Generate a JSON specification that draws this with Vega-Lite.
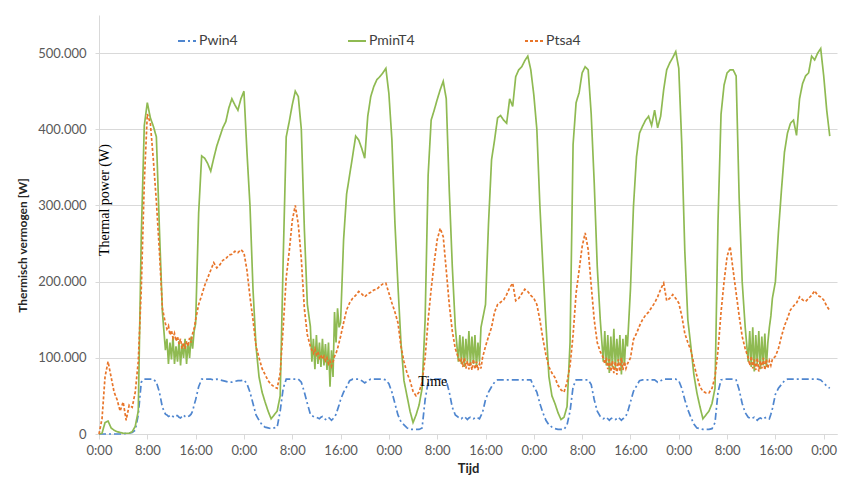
{
"$schema":"https://vega.github.io/schema/vega-lite/v6.json",
"autosize":{"type":"none"},
"width":738,"height":419,
"padding":{"left":99,"top":15,"right":6,"bottom":49},
"background":"white",
"config":{"view":{"stroke":null},"font":"Lato"},
"layer":[
{
"data":{"values":[
{"t":0,"Pwin4":0,"PminT4":0,"Ptsa4":0},
{"t":0.5,"Pwin4":0,"PminT4":1,"Ptsa4":20},
{"t":1,"Pwin4":0,"PminT4":15,"Ptsa4":75},
{"t":1.5,"Pwin4":0,"PminT4":17,"Ptsa4":95},
{"t":2,"Pwin4":0,"PminT4":8,"Ptsa4":75},
{"t":2.5,"Pwin4":0,"PminT4":5,"Ptsa4":55},
{"t":3,"Pwin4":0,"PminT4":3,"Ptsa4":45},
{"t":3.5,"Pwin4":0,"PminT4":2,"Ptsa4":30},
{"t":4,"Pwin4":0,"PminT4":1,"Ptsa4":42},
{"t":4.5,"Pwin4":1,"PminT4":1,"Ptsa4":18},
{"t":5,"Pwin4":1,"PminT4":1,"Ptsa4":38},
{"t":5.5,"Pwin4":2,"PminT4":3,"Ptsa4":35},
{"t":6,"Pwin4":5,"PminT4":10,"Ptsa4":55},
{"t":6.5,"Pwin4":25,"PminT4":30,"Ptsa4":95},
{"t":7,"Pwin4":68,"PminT4":260,"Ptsa4":190},
{"t":7.5,"Pwin4":72,"PminT4":405,"Ptsa4":330},
{"t":8,"Pwin4":72,"PminT4":435,"Ptsa4":420},
{"t":8.5,"Pwin4":72,"PminT4":415,"Ptsa4":408},
{"t":9,"Pwin4":72,"PminT4":404,"Ptsa4":360},
{"t":9.5,"Pwin4":68,"PminT4":390,"Ptsa4":305},
{"t":10,"Pwin4":55,"PminT4":270,"Ptsa4":240},
{"t":10.5,"Pwin4":35,"PminT4":160,"Ptsa4":165},
{"t":11,"Pwin4":26,"PminT4":110,"Ptsa4":145},
{"t":11.25,"Pwin4":25,"PminT4":125,"Ptsa4":138},
{"t":11.5,"Pwin4":23,"PminT4":92,"Ptsa4":142},
{"t":11.75,"Pwin4":24,"PminT4":120,"Ptsa4":130},
{"t":12,"Pwin4":25,"PminT4":98,"Ptsa4":136},
{"t":12.25,"Pwin4":23,"PminT4":128,"Ptsa4":126},
{"t":12.5,"Pwin4":22,"PminT4":92,"Ptsa4":132},
{"t":12.75,"Pwin4":24,"PminT4":115,"Ptsa4":122},
{"t":13,"Pwin4":24,"PminT4":95,"Ptsa4":128},
{"t":13.25,"Pwin4":22,"PminT4":122,"Ptsa4":118},
{"t":13.5,"Pwin4":21,"PminT4":90,"Ptsa4":125},
{"t":13.75,"Pwin4":23,"PminT4":118,"Ptsa4":112},
{"t":14,"Pwin4":25,"PminT4":100,"Ptsa4":120},
{"t":14.25,"Pwin4":23,"PminT4":125,"Ptsa4":112},
{"t":14.5,"Pwin4":22,"PminT4":92,"Ptsa4":122},
{"t":14.75,"Pwin4":23,"PminT4":120,"Ptsa4":115},
{"t":15,"Pwin4":24,"PminT4":100,"Ptsa4":126},
{"t":15.25,"Pwin4":26,"PminT4":128,"Ptsa4":120},
{"t":15.5,"Pwin4":30,"PminT4":112,"Ptsa4":132},
{"t":15.75,"Pwin4":38,"PminT4":135,"Ptsa4":138},
{"t":16,"Pwin4":45,"PminT4":145,"Ptsa4":150},
{"t":16.5,"Pwin4":62,"PminT4":290,"Ptsa4":170},
{"t":17,"Pwin4":72,"PminT4":365,"Ptsa4":182},
{"t":17.5,"Pwin4":72,"PminT4":362,"Ptsa4":195},
{"t":18,"Pwin4":72,"PminT4":355,"Ptsa4":205},
{"t":18.5,"Pwin4":72,"PminT4":345,"Ptsa4":215},
{"t":19,"Pwin4":71,"PminT4":362,"Ptsa4":225},
{"t":19.5,"Pwin4":72,"PminT4":378,"Ptsa4":218},
{"t":20,"Pwin4":71,"PminT4":390,"Ptsa4":222},
{"t":20.5,"Pwin4":70,"PminT4":402,"Ptsa4":228},
{"t":21,"Pwin4":69,"PminT4":410,"Ptsa4":230},
{"t":21.5,"Pwin4":68,"PminT4":428,"Ptsa4":235},
{"t":22,"Pwin4":68,"PminT4":440,"Ptsa4":236},
{"t":22.5,"Pwin4":69,"PminT4":432,"Ptsa4":240},
{"t":23,"Pwin4":70,"PminT4":425,"Ptsa4":238},
{"t":23.5,"Pwin4":70,"PminT4":440,"Ptsa4":242},
{"t":24,"Pwin4":71,"PminT4":450,"Ptsa4":238},
{"t":24.5,"Pwin4":66,"PminT4":370,"Ptsa4":215},
{"t":25,"Pwin4":55,"PminT4":300,"Ptsa4":180},
{"t":25.5,"Pwin4":40,"PminT4":190,"Ptsa4":150},
{"t":26,"Pwin4":25,"PminT4":115,"Ptsa4":115},
{"t":26.5,"Pwin4":18,"PminT4":75,"Ptsa4":100},
{"t":27,"Pwin4":12,"PminT4":55,"Ptsa4":86},
{"t":27.5,"Pwin4":9,"PminT4":42,"Ptsa4":78},
{"t":28,"Pwin4":8,"PminT4":30,"Ptsa4":70},
{"t":28.5,"Pwin4":7,"PminT4":20,"Ptsa4":65},
{"t":29,"Pwin4":8,"PminT4":25,"Ptsa4":62},
{"t":29.5,"Pwin4":9,"PminT4":30,"Ptsa4":60},
{"t":30,"Pwin4":30,"PminT4":50,"Ptsa4":80},
{"t":30.5,"Pwin4":60,"PminT4":230,"Ptsa4":140},
{"t":31,"Pwin4":72,"PminT4":390,"Ptsa4":205},
{"t":31.5,"Pwin4":72,"PminT4":410,"Ptsa4":240},
{"t":32,"Pwin4":72,"PminT4":432,"Ptsa4":280},
{"t":32.5,"Pwin4":72,"PminT4":450,"Ptsa4":300},
{"t":33,"Pwin4":72,"PminT4":443,"Ptsa4":275},
{"t":33.5,"Pwin4":68,"PminT4":400,"Ptsa4":230},
{"t":34,"Pwin4":55,"PminT4":270,"Ptsa4":165},
{"t":34.5,"Pwin4":40,"PminT4":170,"Ptsa4":130},
{"t":35,"Pwin4":26,"PminT4":141,"Ptsa4":115},
{"t":35.25,"Pwin4":24,"PminT4":95,"Ptsa4":110},
{"t":35.5,"Pwin4":23,"PminT4":125,"Ptsa4":106},
{"t":35.75,"Pwin4":22,"PminT4":85,"Ptsa4":112},
{"t":36,"Pwin4":22,"PminT4":130,"Ptsa4":104},
{"t":36.25,"Pwin4":21,"PminT4":92,"Ptsa4":108},
{"t":36.5,"Pwin4":20,"PminT4":120,"Ptsa4":100},
{"t":36.75,"Pwin4":22,"PminT4":88,"Ptsa4":104},
{"t":37,"Pwin4":23,"PminT4":125,"Ptsa4":98},
{"t":37.25,"Pwin4":21,"PminT4":90,"Ptsa4":102},
{"t":37.5,"Pwin4":19,"PminT4":118,"Ptsa4":96},
{"t":37.75,"Pwin4":20,"PminT4":84,"Ptsa4":100},
{"t":38,"Pwin4":22,"PminT4":120,"Ptsa4":92},
{"t":38.25,"Pwin4":20,"PminT4":62,"Ptsa4":96},
{"t":38.5,"Pwin4":18,"PminT4":110,"Ptsa4":89},
{"t":38.75,"Pwin4":20,"PminT4":75,"Ptsa4":95},
{"t":39,"Pwin4":22,"PminT4":160,"Ptsa4":102},
{"t":39.25,"Pwin4":26,"PminT4":120,"Ptsa4":106},
{"t":39.5,"Pwin4":32,"PminT4":165,"Ptsa4":112},
{"t":39.75,"Pwin4":38,"PminT4":140,"Ptsa4":120},
{"t":40,"Pwin4":45,"PminT4":146,"Ptsa4":128},
{"t":40.5,"Pwin4":55,"PminT4":255,"Ptsa4":146},
{"t":41,"Pwin4":62,"PminT4":315,"Ptsa4":163},
{"t":41.5,"Pwin4":70,"PminT4":340,"Ptsa4":172},
{"t":42,"Pwin4":72,"PminT4":365,"Ptsa4":178},
{"t":42.5,"Pwin4":72,"PminT4":391,"Ptsa4":182},
{"t":43,"Pwin4":72,"PminT4":386,"Ptsa4":187},
{"t":43.5,"Pwin4":70,"PminT4":375,"Ptsa4":184},
{"t":44,"Pwin4":67,"PminT4":362,"Ptsa4":180},
{"t":44.5,"Pwin4":70,"PminT4":417,"Ptsa4":184},
{"t":45,"Pwin4":72,"PminT4":443,"Ptsa4":186},
{"t":45.5,"Pwin4":72,"PminT4":456,"Ptsa4":189},
{"t":46,"Pwin4":72,"PminT4":465,"Ptsa4":190},
{"t":46.5,"Pwin4":72,"PminT4":469,"Ptsa4":194},
{"t":47,"Pwin4":72,"PminT4":474,"Ptsa4":197},
{"t":47.5,"Pwin4":71,"PminT4":480,"Ptsa4":198},
{"t":48,"Pwin4":66,"PminT4":447,"Ptsa4":185},
{"t":48.5,"Pwin4":55,"PminT4":386,"Ptsa4":172},
{"t":49,"Pwin4":40,"PminT4":277,"Ptsa4":160},
{"t":49.5,"Pwin4":25,"PminT4":195,"Ptsa4":146},
{"t":50,"Pwin4":16,"PminT4":120,"Ptsa4":115},
{"t":50.5,"Pwin4":12,"PminT4":70,"Ptsa4":95},
{"t":51,"Pwin4":8,"PminT4":50,"Ptsa4":80},
{"t":51.5,"Pwin4":6,"PminT4":30,"Ptsa4":70},
{"t":52,"Pwin4":6,"PminT4":15,"Ptsa4":56},
{"t":52.5,"Pwin4":6,"PminT4":25,"Ptsa4":50},
{"t":53,"Pwin4":6,"PminT4":38,"Ptsa4":55},
{"t":53.5,"Pwin4":8,"PminT4":60,"Ptsa4":68},
{"t":54,"Pwin4":45,"PminT4":150,"Ptsa4":100},
{"t":54.5,"Pwin4":68,"PminT4":340,"Ptsa4":150},
{"t":55,"Pwin4":72,"PminT4":412,"Ptsa4":190},
{"t":55.5,"Pwin4":72,"PminT4":425,"Ptsa4":225},
{"t":56,"Pwin4":72,"PminT4":439,"Ptsa4":255},
{"t":56.5,"Pwin4":72,"PminT4":452,"Ptsa4":270},
{"t":57,"Pwin4":72,"PminT4":463,"Ptsa4":259},
{"t":57.5,"Pwin4":70,"PminT4":440,"Ptsa4":215},
{"t":58,"Pwin4":55,"PminT4":320,"Ptsa4":170},
{"t":58.5,"Pwin4":35,"PminT4":220,"Ptsa4":135},
{"t":59,"Pwin4":25,"PminT4":140,"Ptsa4":112},
{"t":59.5,"Pwin4":22,"PminT4":95,"Ptsa4":100},
{"t":59.75,"Pwin4":21,"PminT4":130,"Ptsa4":94},
{"t":60,"Pwin4":20,"PminT4":92,"Ptsa4":98},
{"t":60.25,"Pwin4":22,"PminT4":128,"Ptsa4":88},
{"t":60.5,"Pwin4":23,"PminT4":88,"Ptsa4":100},
{"t":60.75,"Pwin4":21,"PminT4":125,"Ptsa4":86},
{"t":61,"Pwin4":19,"PminT4":95,"Ptsa4":96},
{"t":61.25,"Pwin4":21,"PminT4":135,"Ptsa4":85},
{"t":61.5,"Pwin4":22,"PminT4":90,"Ptsa4":95},
{"t":61.75,"Pwin4":21,"PminT4":128,"Ptsa4":84},
{"t":62,"Pwin4":20,"PminT4":92,"Ptsa4":98},
{"t":62.25,"Pwin4":21,"PminT4":130,"Ptsa4":85},
{"t":62.5,"Pwin4":22,"PminT4":88,"Ptsa4":95},
{"t":62.75,"Pwin4":21,"PminT4":120,"Ptsa4":84},
{"t":63,"Pwin4":20,"PminT4":95,"Ptsa4":92},
{"t":63.25,"Pwin4":24,"PminT4":140,"Ptsa4":86},
{"t":63.5,"Pwin4":28,"PminT4":150,"Ptsa4":100},
{"t":64,"Pwin4":45,"PminT4":170,"Ptsa4":115},
{"t":64.5,"Pwin4":55,"PminT4":277,"Ptsa4":128},
{"t":65,"Pwin4":62,"PminT4":360,"Ptsa4":140},
{"t":65.5,"Pwin4":68,"PminT4":386,"Ptsa4":160},
{"t":66,"Pwin4":71,"PminT4":415,"Ptsa4":170},
{"t":66.5,"Pwin4":71,"PminT4":418,"Ptsa4":173},
{"t":67,"Pwin4":71,"PminT4":412,"Ptsa4":176},
{"t":67.5,"Pwin4":71,"PminT4":408,"Ptsa4":183},
{"t":68,"Pwin4":71,"PminT4":440,"Ptsa4":192},
{"t":68.5,"Pwin4":71,"PminT4":430,"Ptsa4":198},
{"t":69,"Pwin4":71,"PminT4":469,"Ptsa4":175},
{"t":69.5,"Pwin4":71,"PminT4":478,"Ptsa4":178},
{"t":70,"Pwin4":71,"PminT4":482,"Ptsa4":184},
{"t":70.5,"Pwin4":71,"PminT4":490,"Ptsa4":190},
{"t":71,"Pwin4":71,"PminT4":496,"Ptsa4":187},
{"t":71.5,"Pwin4":71,"PminT4":478,"Ptsa4":182},
{"t":72,"Pwin4":62,"PminT4":445,"Ptsa4":178},
{"t":72.5,"Pwin4":55,"PminT4":400,"Ptsa4":170},
{"t":73,"Pwin4":40,"PminT4":300,"Ptsa4":150},
{"t":73.5,"Pwin4":28,"PminT4":220,"Ptsa4":125},
{"t":74,"Pwin4":18,"PminT4":145,"Ptsa4":104},
{"t":74.5,"Pwin4":12,"PminT4":75,"Ptsa4":88},
{"t":75,"Pwin4":9,"PminT4":50,"Ptsa4":80},
{"t":75.5,"Pwin4":7,"PminT4":40,"Ptsa4":74},
{"t":76,"Pwin4":6,"PminT4":28,"Ptsa4":64},
{"t":76.5,"Pwin4":6,"PminT4":19,"Ptsa4":58},
{"t":77,"Pwin4":6,"PminT4":22,"Ptsa4":55},
{"t":77.5,"Pwin4":12,"PminT4":36,"Ptsa4":68},
{"t":78,"Pwin4":30,"PminT4":120,"Ptsa4":90},
{"t":78.5,"Pwin4":62,"PminT4":380,"Ptsa4":130},
{"t":79,"Pwin4":71,"PminT4":435,"Ptsa4":185},
{"t":79.5,"Pwin4":71,"PminT4":448,"Ptsa4":215},
{"t":80,"Pwin4":71,"PminT4":474,"Ptsa4":246},
{"t":80.5,"Pwin4":71,"PminT4":482,"Ptsa4":264},
{"t":81,"Pwin4":71,"PminT4":478,"Ptsa4":242},
{"t":81.5,"Pwin4":65,"PminT4":420,"Ptsa4":195},
{"t":82,"Pwin4":45,"PminT4":330,"Ptsa4":150},
{"t":82.5,"Pwin4":30,"PminT4":220,"Ptsa4":120},
{"t":83,"Pwin4":23,"PminT4":150,"Ptsa4":108},
{"t":83.5,"Pwin4":20,"PminT4":95,"Ptsa4":100},
{"t":83.75,"Pwin4":21,"PminT4":135,"Ptsa4":92},
{"t":84,"Pwin4":22,"PminT4":90,"Ptsa4":100},
{"t":84.25,"Pwin4":20,"PminT4":130,"Ptsa4":85},
{"t":84.5,"Pwin4":18,"PminT4":80,"Ptsa4":98},
{"t":84.75,"Pwin4":20,"PminT4":128,"Ptsa4":82},
{"t":85,"Pwin4":21,"PminT4":88,"Ptsa4":96},
{"t":85.25,"Pwin4":20,"PminT4":138,"Ptsa4":80},
{"t":85.5,"Pwin4":19,"PminT4":85,"Ptsa4":95},
{"t":85.75,"Pwin4":20,"PminT4":125,"Ptsa4":78},
{"t":86,"Pwin4":22,"PminT4":92,"Ptsa4":98},
{"t":86.25,"Pwin4":20,"PminT4":130,"Ptsa4":82},
{"t":86.5,"Pwin4":18,"PminT4":78,"Ptsa4":100},
{"t":86.75,"Pwin4":20,"PminT4":125,"Ptsa4":84},
{"t":87,"Pwin4":21,"PminT4":90,"Ptsa4":95},
{"t":87.25,"Pwin4":24,"PminT4":130,"Ptsa4":86},
{"t":87.5,"Pwin4":28,"PminT4":115,"Ptsa4":92},
{"t":88,"Pwin4":42,"PminT4":190,"Ptsa4":100},
{"t":88.5,"Pwin4":56,"PminT4":299,"Ptsa4":124},
{"t":89,"Pwin4":63,"PminT4":364,"Ptsa4":132},
{"t":89.5,"Pwin4":70,"PminT4":395,"Ptsa4":142},
{"t":90,"Pwin4":71,"PminT4":404,"Ptsa4":150},
{"t":90.5,"Pwin4":71,"PminT4":412,"Ptsa4":156},
{"t":91,"Pwin4":71,"PminT4":417,"Ptsa4":160},
{"t":91.5,"Pwin4":71,"PminT4":405,"Ptsa4":166},
{"t":92,"Pwin4":71,"PminT4":425,"Ptsa4":172},
{"t":92.5,"Pwin4":68,"PminT4":402,"Ptsa4":180},
{"t":93,"Pwin4":70,"PminT4":417,"Ptsa4":190},
{"t":93.5,"Pwin4":72,"PminT4":452,"Ptsa4":198},
{"t":94,"Pwin4":72,"PminT4":478,"Ptsa4":175},
{"t":94.5,"Pwin4":72,"PminT4":487,"Ptsa4":178},
{"t":95,"Pwin4":72,"PminT4":494,"Ptsa4":183},
{"t":95.5,"Pwin4":72,"PminT4":502,"Ptsa4":178},
{"t":96,"Pwin4":70,"PminT4":480,"Ptsa4":172},
{"t":96.5,"Pwin4":60,"PminT4":380,"Ptsa4":155},
{"t":97,"Pwin4":45,"PminT4":240,"Ptsa4":132},
{"t":97.5,"Pwin4":32,"PminT4":150,"Ptsa4":120},
{"t":98,"Pwin4":22,"PminT4":115,"Ptsa4":110},
{"t":98.5,"Pwin4":13,"PminT4":78,"Ptsa4":92},
{"t":99,"Pwin4":8,"PminT4":54,"Ptsa4":76},
{"t":99.5,"Pwin4":7,"PminT4":36,"Ptsa4":62},
{"t":100,"Pwin4":6,"PminT4":20,"Ptsa4":56},
{"t":100.5,"Pwin4":6,"PminT4":25,"Ptsa4":54},
{"t":101,"Pwin4":6,"PminT4":30,"Ptsa4":54},
{"t":101.5,"Pwin4":7,"PminT4":40,"Ptsa4":60},
{"t":102,"Pwin4":15,"PminT4":60,"Ptsa4":75},
{"t":102.5,"Pwin4":55,"PminT4":280,"Ptsa4":110},
{"t":103,"Pwin4":71,"PminT4":420,"Ptsa4":160},
{"t":103.5,"Pwin4":72,"PminT4":458,"Ptsa4":200},
{"t":104,"Pwin4":72,"PminT4":474,"Ptsa4":233},
{"t":104.5,"Pwin4":72,"PminT4":478,"Ptsa4":246},
{"t":105,"Pwin4":72,"PminT4":478,"Ptsa4":215},
{"t":105.5,"Pwin4":71,"PminT4":470,"Ptsa4":185},
{"t":106,"Pwin4":58,"PminT4":310,"Ptsa4":155},
{"t":106.5,"Pwin4":40,"PminT4":200,"Ptsa4":128},
{"t":107,"Pwin4":28,"PminT4":140,"Ptsa4":112},
{"t":107.5,"Pwin4":22,"PminT4":95,"Ptsa4":100},
{"t":107.75,"Pwin4":21,"PminT4":135,"Ptsa4":90},
{"t":108,"Pwin4":20,"PminT4":88,"Ptsa4":102},
{"t":108.25,"Pwin4":21,"PminT4":140,"Ptsa4":86},
{"t":108.5,"Pwin4":22,"PminT4":82,"Ptsa4":98},
{"t":108.75,"Pwin4":20,"PminT4":130,"Ptsa4":84},
{"t":109,"Pwin4":18,"PminT4":92,"Ptsa4":100},
{"t":109.25,"Pwin4":20,"PminT4":135,"Ptsa4":82},
{"t":109.5,"Pwin4":21,"PminT4":85,"Ptsa4":96},
{"t":109.75,"Pwin4":20,"PminT4":128,"Ptsa4":86},
{"t":110,"Pwin4":19,"PminT4":90,"Ptsa4":100},
{"t":110.25,"Pwin4":21,"PminT4":132,"Ptsa4":84},
{"t":110.5,"Pwin4":22,"PminT4":88,"Ptsa4":98},
{"t":110.75,"Pwin4":21,"PminT4":120,"Ptsa4":86},
{"t":111,"Pwin4":20,"PminT4":140,"Ptsa4":96},
{"t":111.25,"Pwin4":26,"PminT4":155,"Ptsa4":90},
{"t":111.5,"Pwin4":33,"PminT4":178,"Ptsa4":98},
{"t":112,"Pwin4":52,"PminT4":200,"Ptsa4":102},
{"t":112.5,"Pwin4":60,"PminT4":265,"Ptsa4":112},
{"t":113,"Pwin4":65,"PminT4":320,"Ptsa4":128},
{"t":113.5,"Pwin4":70,"PminT4":370,"Ptsa4":142},
{"t":114,"Pwin4":72,"PminT4":395,"Ptsa4":152},
{"t":114.5,"Pwin4":72,"PminT4":408,"Ptsa4":163},
{"t":115,"Pwin4":72,"PminT4":412,"Ptsa4":168},
{"t":115.5,"Pwin4":72,"PminT4":392,"Ptsa4":172},
{"t":116,"Pwin4":72,"PminT4":440,"Ptsa4":180},
{"t":116.5,"Pwin4":72,"PminT4":460,"Ptsa4":176},
{"t":117,"Pwin4":72,"PminT4":470,"Ptsa4":174},
{"t":117.5,"Pwin4":72,"PminT4":474,"Ptsa4":178},
{"t":118,"Pwin4":72,"PminT4":496,"Ptsa4":182},
{"t":118.5,"Pwin4":72,"PminT4":491,"Ptsa4":188},
{"t":119,"Pwin4":72,"PminT4":500,"Ptsa4":182},
{"t":119.5,"Pwin4":71,"PminT4":506,"Ptsa4":180},
{"t":120,"Pwin4":67,"PminT4":470,"Ptsa4":176},
{"t":120.5,"Pwin4":63,"PminT4":425,"Ptsa4":168},
{"t":121,"Pwin4":60,"PminT4":391,"Ptsa4":162}
]},
"transform":[{"fold":["Pwin4","PminT4","Ptsa4"],"as":["series","val"]}],
"mark":{"type":"line","strokeWidth":1.7},
"encoding":{
"x":{"field":"t","type":"quantitative","scale":{"domain":[0,122.2],"nice":false,"zero":false},
"axis":{"values":[0,8,16,24,32,40,48,56,64,72,80,88,96,104,112,120],"labelExpr":"(datum.value % 24) + ':00'","grid":false,"title":"Tijd","titleFont":"Lato","titleFontWeight":"bold","titleFontSize":13,"titleColor":"#262626","titlePadding":5,"labelFont":"Lato","labelFontSize":13,"labelColor":"#595959","labelPadding":5,"labelFlush":false,"labelOverlap":false,"tickSize":5,"tickColor":"#d9d9d9","domainColor":"#d9d9d9"}},
"y":{"field":"val","type":"quantitative","scale":{"domain":[0,550],"nice":false},
"axis":{"values":[0,100,200,300,400,500],"labelExpr":"datum.value == 0 ? '0' : datum.value + '.000'","grid":true,"gridColor":"#d9d9d9","domainColor":"#d9d9d9","tickColor":"#d9d9d9","tickSize":4,"labelPadding":9,"labelFont":"Lato","labelFontSize":13,"labelColor":"#595959","title":"Thermisch vermogen [W]","titleFont":"Lato","titleFontSize":12,"titleFontWeight":"bold","titleColor":"#262626","titleX":-77,"titleY":230,"titleAngle":270,"titleAlign":"center","titleBaseline":"middle"}},
"color":{"field":"series","type":"nominal","scale":{"domain":["Pwin4","PminT4","Ptsa4"],"range":["#4F86CF","#8FBA52","#E8752A"]},
"legend":{"title":null,"orient":"none","legendX":78,"legendY":16,"direction":"horizontal","columns":3,"columnPadding":106,"symbolType":"stroke","symbolSize":324,"symbolStrokeWidth":2,"labelFont":"Lato","labelFontSize":14,"labelColor":"#404040","labelOffset":2,"padding":0}},
"strokeDash":{"field":"series","type":"nominal","scale":{"domain":["Pwin4","PminT4","Ptsa4"],"range":[[7,3,2,3],[1,0],[3,2]]},
"legend":{"title":null,"orient":"none","legendX":78,"legendY":16,"direction":"horizontal","columns":3,"columnPadding":106,"symbolType":"stroke","symbolSize":324,"symbolStrokeWidth":2,"labelFont":"Lato","labelFontSize":14,"labelColor":"#404040","labelOffset":2,"padding":0}}
}
},
{
"data":{"values":[{}]},
"mark":{"type":"text","text":"Thermal power (W)","font":"Liberation Serif","fontSize":14,"angle":270,"color":"#000000"},
"encoding":{
"x":{"datum":0.96,"type":"quantitative"},
"y":{"datum":307,"type":"quantitative"}
}
},
{
"data":{"values":[{}]},
"mark":{"type":"text","text":"Time","font":"Liberation Serif","fontSize":14,"color":"#000000"},
"encoding":{
"x":{"datum":55.27,"type":"quantitative"},
"y":{"datum":68.6,"type":"quantitative"}
}
}
]
}
